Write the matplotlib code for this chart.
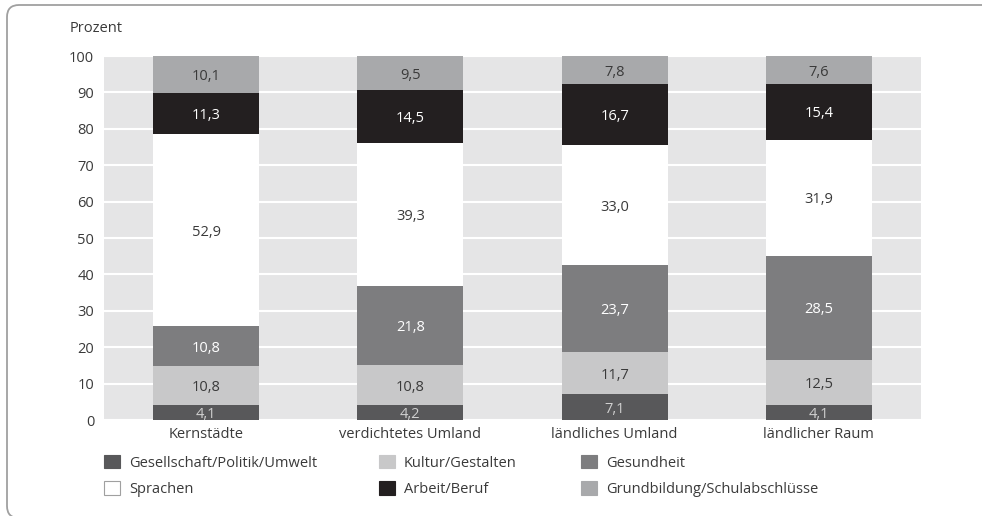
import matplotlib
matplotlib.use('Agg')
import matplotlib.pyplot as plt
from matplotlib.patches import FancyBboxPatch, Patch
import numpy as np

plt.rcParams['font.family'] = ['Open Sans', 'DejaVu Sans']

categories = ['Kernstädte', 'verdichtetes Umland', 'ländliches Umland', 'ländlicher Raum']
series = ['Gesellschaft/Politik/Umwelt', 'Kultur/Gestalten', 'Gesundheit',
          'Sprachen', 'Arbeit/Beruf', 'Grundbildung/Schulabschlüsse']
gesellschaft = [4.1, 4.2, 7.1, 4.1]
kultur = [10.8, 10.8, 11.7, 12.5]
gesundheit = [10.8, 21.8, 23.7, 28.5]
sprachen = [52.9, 39.3, 33.0, 31.9]
arbeit = [11.3, 14.5, 16.7, 15.4]
grundbildung = [10.1, 9.5, 7.8, 7.6]
yticks = [0, 10, 20, 30, 40, 50, 60, 70, 80, 90, 100]

values = [gesellschaft, kultur, gesundheit, sprachen, arbeit, grundbildung]
colors = ['#58585a', '#c8c8c9', '#7d7d7f', '#ffffff', '#231f20', '#a8a9ab']
txtcol = ['#d0d0d0', '#3a3a3a', '#ffffff', '#3a3a3a', '#ffffff', '#3a3a3a']
dark = '#3a3a3a'

W, H = 982, 516
fig = plt.figure(figsize=(W / 100, H / 100), dpi=100)
ax = fig.add_axes([104 / W, 1 - 420 / H, 817 / W, 364 / H])
ax.set_facecolor('#e5e5e6')

x = np.arange(len(categories))
bottom = np.zeros(len(categories))
for vals, c, tc in zip(values, colors, txtcol):
    vals = np.array(vals)
    ax.bar(x, vals, bottom=bottom, width=0.52, color=c, zorder=2, linewidth=0)
    for xi, b, v in zip(x, bottom, vals):
        ax.text(xi, b + v / 2 - 0.6, f'{v:.1f}'.replace('.', ','), ha='center', va='center',
                fontsize=10.5, color=tc, zorder=3, clip_on=True)
    bottom += vals

ax.set_xlim(-0.5, len(categories) - 0.5)
ax.set_ylim(0, 100)
ax.set_yticks(yticks)
ax.yaxis.grid(True, color='white', linewidth=1.5, zorder=1)
ax.set_axisbelow(True)
for s in ax.spines.values():
    s.set_visible(False)
ax.tick_params(axis='both', length=0, labelsize=10.5, colors=dark)
ax.tick_params(axis='y', pad=7)
ax.tick_params(axis='x', pad=5)
ax.set_xticks(x)
ax.set_xticklabels(categories)

fig.text(70 / W, 1 - 28 / H, 'Prozent', fontsize=10.5, color=dark, va='center', ha='left')

# legend: three columns placed one by one
handles = [Patch(facecolor=c, edgecolor='#a0a0a0' if c == '#ffffff' else c, linewidth=0.8)
           for c in colors]
order = [[0, 3], [1, 4], [2, 5]]
col_x = [104, 379, 581]
for cx, idx in zip(col_x, order):
    fig.legend([handles[i] for i in idx], [series[i] for i in idx],
               loc='upper left', bbox_to_anchor=(cx / W, 1 - 455 / H),
               frameon=False, fontsize=10.5, labelcolor=dark,
               handlelength=1.1, handleheight=1.0, handletextpad=0.6,
               labelspacing=0.75, borderpad=0, borderaxespad=0)

frame = FancyBboxPatch((7, -2), 1100, 513, boxstyle='round,pad=0,rounding_size=12',
                       transform=None, facecolor='none', edgecolor='#a0a0a0',
                       linewidth=1.3)
fig.patches.append(frame)

fig.savefig('out.png', dpi=100)
